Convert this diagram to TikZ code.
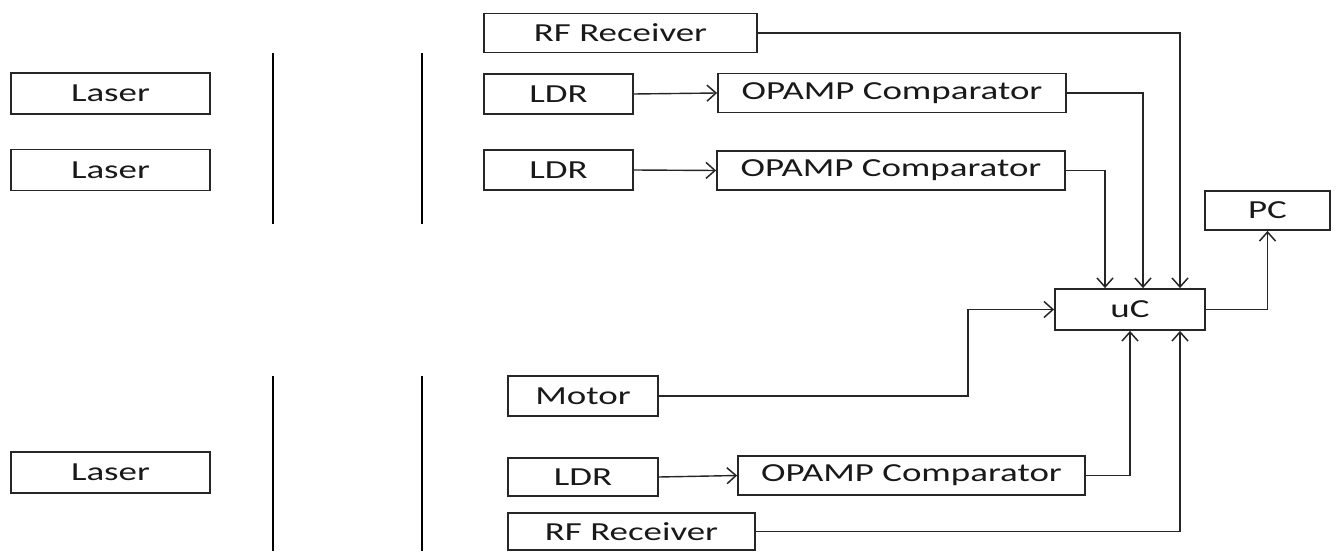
\documentclass[tikz,border=0pt]{standalone}
\usepackage{fontspec}
\setmainfont[FakeStretch=1.42]{Carlito}
\usetikzlibrary{arrows.meta}
\begin{document}
\begin{tikzpicture}[x={(1pt,0)},y={(0,-1pt)},
  box/.style={draw=black!85,line width=1.8pt,inner sep=0pt,font=\fontsize{26}{30}\selectfont,text=black!90},
  conn/.style={draw=black!85,line width=1.4pt},
  arr/.style={conn,-{Straight Barb[length=9pt,width=16pt,line width=1.5pt]}},
  bar/.style={draw=black,line width=2pt}]
\useasboundingbox (0,0) rectangle (1344,556);
% left column
\node[box,minimum width=199pt,minimum height=41pt] (l1) at (110.5,93.5) {Laser};
\node[box,minimum width=199pt,minimum height=41pt] (l2) at (110.5,170) {Laser};
\node[box,minimum width=199pt,minimum height=41pt] (l3) at (110.5,472.5) {Laser};
% bars
\coordinate (b1t) at (273,53); \coordinate (b1b) at (273,224);
\coordinate (b2t) at (422,53); \coordinate (b2b) at (422,224);
\coordinate (b3t) at (273,376); \coordinate (b3b) at (273,551);
\coordinate (b4t) at (422,376); \coordinate (b4b) at (422,551);
\draw[bar] (b1t) -- (b1b);
\draw[bar] (b2t) -- (b2b);
\draw[bar] (b3t) -- (b3b);
\draw[bar] (b4t) -- (b4b);
% top group
\node[box,minimum width=273pt,minimum height=39pt] (rf1) at (620.5,33) {RF Receiver};
\node[box,minimum width=149pt,minimum height=40pt] (ldr1) at (558.5,94) {LDR};
\node[box,minimum width=348pt,minimum height=39pt] (op1) at (892,93) {OPAMP Comparator};
\node[box,minimum width=149pt,minimum height=40pt] (ldr2) at (558.5,170) {LDR};
\node[box,minimum width=348pt,minimum height=39pt] (op2) at (891,170.5) {OPAMP Comparator};
% centre
\node[box,minimum width=150pt,minimum height=41pt] (uc) at (1130,309.5) {uC};
\node[box,minimum width=125pt,minimum height=39pt] (pc) at (1267.5,210.5) {PC};
% bottom group
\node[box,minimum width=150pt,minimum height=40pt] (mot) at (583,396) {Motor};
\node[box,minimum width=150pt,minimum height=38pt] (ldr3) at (583,477) {LDR};
\node[box,minimum width=347pt,minimum height=39pt] (op3) at (911.5,475.5) {OPAMP Comparator};
\node[box,minimum width=247pt,minimum height=37pt] (rf2) at (631.5,531.5) {RF Receiver};
% connectors
\draw[arr] (ldr1.east) -- (op1.west);
\draw[arr] (ldr2.east) -- (op2.west);
\draw[arr] (ldr3.east) -- (op3.west);
\draw[arr] (rf1.east) -| ([xshift=50pt]uc.north);
\draw[arr] (op1.east) -| ([xshift=13pt]uc.north);
\draw[arr] (op2.east) -| ([xshift=-25pt]uc.north);
\draw[arr] (mot.east) -- (968,396) |- (uc.west);
\draw[arr] (op3.east) -| (uc.south);
\draw[arr] (rf2.east) -| ([xshift=50pt]uc.south);
\draw[arr] (uc.east) -| (pc.south);
\end{tikzpicture}
\end{document}
